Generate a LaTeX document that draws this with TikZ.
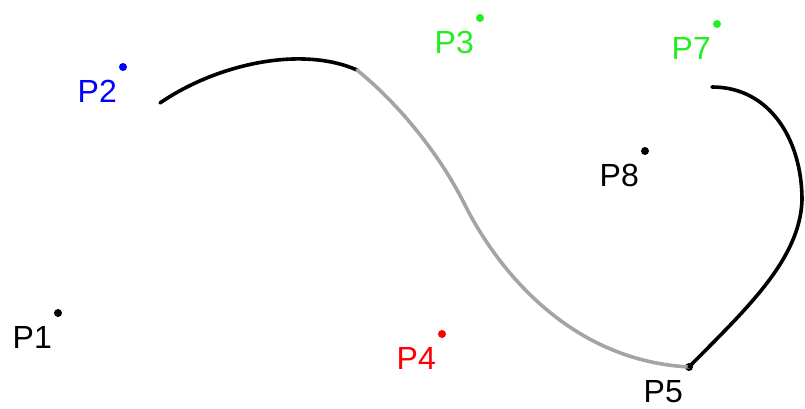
\documentclass[tikz,border=0pt]{standalone}
\usepackage{fontspec}
\setmainfont{Liberation Sans}
\usepackage{xcolor}
\usetikzlibrary{positioning}
\definecolor{pblue}{HTML}{0000FF}
\definecolor{pgreen}{HTML}{22EE22}
\definecolor{pred}{HTML}{FF0000}
\definecolor{cgray}{HTML}{A4A4A4}

\begin{document}
\begin{tikzpicture}[x=1pt,y=-1pt,
  dotpt/.style={circle,fill=#1,inner sep=0pt,minimum size=8pt},
  lbl/.style={text=#1,font=\fontsize{32}{32}\selectfont,inner sep=0pt},
  seg/.style={line width=3.6pt,line cap=round}
]
\useasboundingbox (0,0) rectangle (805,409);
\node[dotpt=black] (p1) at (58,313) {};
\node[dotpt=pblue] (p2) at (123,67) {};
\node[dotpt=pgreen] (p3) at (480,18) {};
\node[dotpt=pred] (p4) at (442,334) {};
\node[dotpt=black] (p5) at (689,367) {};
\node[dotpt=pgreen] (p7) at (717,24) {};
\node[dotpt=black] (p8) at (645,151) {};
\foreach \n/\c in {1/black,2/pblue,3/pgreen,4/pred,5/black,7/pgreen,8/black}
  \node[lbl=\c,below left=13pt and 6pt of p\n.center] (l\n) {P\n};
% curve pieces
\coordinate (s0) at (160,103);
\coordinate (s1) at (357,70);
\coordinate (s2) at (689,367);
\coordinate (s3) at (712,87);
\draw[seg] (s0) .. controls (215,65) and (300,45) .. (s1);
\draw[seg,cgray] (s1) .. controls (400,105) and (440,155) .. (465,205)
  .. controls (490,255) and (560,360) .. (s2);
\draw[seg] (s2) .. controls (745,310) and (800,260) .. (802,200)
  .. controls (802,140) and (770,87) .. (s3);
\end{tikzpicture}
\end{document}
